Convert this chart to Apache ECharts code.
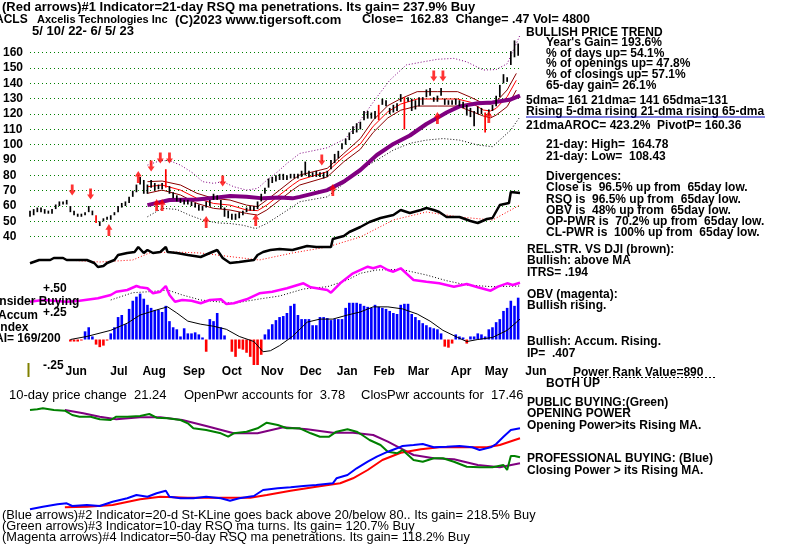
<!DOCTYPE html>
<html><head><meta charset="utf-8">
<script src="https://cdn.jsdelivr.net/npm/echarts@6/dist/echarts.min.js"></script>
<style>html,body{margin:0;padding:0;background:#fff}#c{width:796px;height:545px}</style>
</head><body><div id="c"></div>
<script>
// ---------- DATA ----------
const priceTicks = [40,50,60,70,80,90,100,110,120,130,140,150,160];
// one bar every 2 trading days (day = 2*k)
const priceHigh = [57,58,59,59,58,57,58,61,63,63, 64,60,57,55,55,56,60,57,54,50, 52,53,54,56,60,62,63,66,70,74,
 79,77,74,77,75,74,75,84,73,69, 67,65,64,64,63,62,61,60,63,64, 68,67,64,59,57,55,55,56,57,59,
 60,60,63,68,72,78,79,80,81,81, 80,81,81,81,83,89,83,82,83,82, 82,83,90,94,96,101,104,108,112,114,
 115,122,122,121,122,126,130,129,124,126, 127,133,131,131,130,129,131,131,136,137, 131,132,137,130,129,129,130,129,128,126,
 124,122,125,124,121,123,126,132,139,146, 144,161,168,166];
const priceLow = [53,54,56,56,55,55,55,58,60,61, 61,56,54,53,53,54,56,54,49,47, 50,51,51,54,56,59,60,62,66,69,
 74,68,68,72,70,71,71,72,68,65, 63,62,61,61,60,59,57,57,59,60, 64,64,58,53,52,51,51,52,54,56,
 57,57,58,63,68,72,75,76,77,77, 77,78,78,78,79,80,79,79,79,79, 78,79,84,88,91,97,100,103,107,108,
 110,116,117,117,117,116,126,125,120,121, 122,128,110,128,122,123,125,126,131,132, 128,128,132,126,126,126,126,125,124,119,
 118,112,120,120,108,119,122,125,131,140, 141,152,157,158];
const redBarIdx = [18,37,95,102,124];

const ma65Day = [64,76,91,102,109,118,127,136,143,147,162,171,180,189,198,207,216,222,227,234,244,252,262,267];
const ma65Val = [60.6,63.9,64.3,65.6,66.5,66,65,65.6,65,66,70.4,75.9,83.5,93.3,100.5,106,113.5,117.5,121,125,127,127.5,129.5,132];

const bandDay  = [64,72,82,91,100,109,118,124,129,136,143,147,162,171,180,187,195,202,211,222,233,240,247,251,254,260,265];
const bandUp   = [75.9,76.3,73.7,68.3,65,63.9,60.6,59.6,63.9,70.4,77,80.2,84.6,94.3,104,116,125.5,130,134.6,134.6,134.6,131,127,126.5,128,135.7,146.5];
const bandMid  = [72.6,73.7,70.4,65,61.7,60.6,57.4,57,60.6,67.2,73.7,77,82.4,92.2,100.5,112,121.5,126.5,129.8,129.8,129.8,127.7,122.6,122,123.7,131.3,142];
const bandLow  = [68.3,70.4,67.2,61.7,58.5,57.4,55.2,54.1,57.4,63.9,70.4,73.7,79,88.9,97,108,117.5,122.5,125.2,125.2,125.2,122,118.7,117.5,119.3,124.8,135.6];

const envUpDay = [64,71,76,82,89,94,100,105,111,118,124,129,135,140,147,154,162,172,180,189,196,205,214,222,231,238,247,254,260,265,267];
const envUpVal = [86.7,89.6,89.6,86.7,81.3,75.9,74.8,75.9,72.6,70.4,71.5,76.8,82.4,87.8,94.3,96,98,104,116,131,142,152,154,155.7,156.3,154,148.7,149,152.8,166,171.5];
const envLoDay = [64,72,80,87,94,102,109,116,123,129,136,143,147,162,180,198,207,216,225,234,244,252,262,267];
const envLoVal = [53,58.5,57.8,54,50.9,49,48.6,47.5,45.3,48.6,54,59.5,62.8,66,83.5,96.5,100.9,103,104,103,99.8,98.7,109.6,118.3];

const downArrowDay   = [23,33,66,71,76,105,159,220,225];
const downArrowPrice = [70.4,67.8,86.1,91.3,91.3,76.3,90,144.8,144.8];
const upArrowDay     = [43,59,69,72,96,123,165,222,250];
const upArrowPrice   = [44.3,79,60.6,60.6,49.6,50.9,70.4,117.4,118];

// relative strength vs DJI (black) and its MA (red dotted), arbitrary units
const rsDay = [0,5,11,13,18,20,31,35,37,40,42,46,48,53,57,59,62,64,67,71,74,75,80,86,93,98,102,105,109,114,122,124,127,131,136,143,151,156,164,165,171,174,180,185,191,198,202,207,213,216,220,223,227,234,240,244,249,252,256,261,262,267];
const rsVal = [11.7,15,15,17,17,15,15,12,8,9,12,15,20,22,23,28,22,25,22,23,28,23,22,20,18,22,25,17,12,13,15,20,23,25,26,25,29,28,28,36,39,43,48,53,57,60,65,62,65,67,65,63,58,58,54,52,56,57,70,72,83,82];
const rsMaDay = [20,38,56,65,78,93,111,125,143,162,180,198,216,234,252,267];
const rsMaVal = [15,13,15,22,23,22,18,15,22,28,38,55,63,58,55,70];

// OBV (magenta) and its MA
const obvDay = [0,7,20,27,37,44,47,53,58,60,64,67,71,74,76,79,83,88,93,98,104,107,111,118,125,132,140,149,153,162,164,169,176,184,187,191,195,198,202,205,209,216,223,231,238,244,251,255,260,263,267];
const obvVal = [8.3,10,8.3,9.3,11.7,15,18.3,20,24,22.7,21.7,16.7,18.3,24,15,8.3,10,9.3,6.7,10,10.7,6,6.7,10.7,16.7,18.3,21.7,26.7,22.7,20,17.3,26.7,36.7,43.3,41.7,44,40,38.3,41.7,36.7,30,28.3,26.7,23.3,26,22.7,19.3,23.3,26.7,25,27.3];
const obvMaDay = [44,56,65,75,83,93,102,111,125,136,149,162,173,180,189,202,216,227,238,252,267];
const obvMaVal = [10,17.3,18.3,20,15,10,8.3,6.7,11,14,21,23.3,30,36.7,40,40.7,35,29.3,25,23.3,24];

// Accumulation index, one value every 2 trading days from day 22
const aiStartDay = 22;
const aiVals = [-0.02,-0.02,-0.02,-0.01,0.08,0.12,0.03,-0.05,-0.075,-0.06,
 -0.01,0.06,0.12,0.22,0.24,0.15,0.30,0.38,0.42,0.45,
 0.40,0.34,0.31,0.29,0.29,0.27,0.33,0.18,0.12,0.10,
 0.03,0.11,0.06,0.06,0.07,0.05,0.02,-0.12,0.20,0.18,
 0.26,0.12,0.04,0.0,-0.12,-0.17,-0.09,-0.10,-0.13,-0.17,
 -0.25,-0.28,-0.15,0.05,0.10,0.15,0.19,0.22,0.23,0.26,
 0.33,0.35,0.24,0.20,0.20,0.20,0.14,0.14,0.22,0.22,
 0.21,0.19,0.20,0.20,0.20,0.31,0.36,0.36,0.36,0.35,
 0.33,0.32,0.31,0.34,0.32,0.31,0.30,0.28,0.26,0.25,
 0.34,0.35,0.35,0.25,0.22,0.19,0.16,0.14,0.12,0.11,
 0.10,0.06,-0.07,-0.08,-0.04,0.05,0.03,0.02,-0.04,0.03,
 0.03,0.06,0.05,0.03,0.10,0.12,0.17,0.20,0.28,0.31,
 0.38,0.33,0.41];
const aiMaDay = [22,31,44,53,60,69,75,80,86,93,100,107,114,122,127,131,136,143,151,158,165,173,180,187,195,203,211,218,225,233,238,244,252,260,267];
const aiMaVal = [0,0.03,0.09,0.16,0.24,0.29,0.32,0.26,0.18,0.15,0.13,0.10,0.03,-0.02,-0.12,-0.11,-0.06,0.03,0.17,0.20,0.20,0.24,0.27,0.32,0.32,0.30,0.25,0.18,0.09,0.02,-0.02,0,0.02,0.09,0.20];
const aiLevels = [0.5, 0.25, -0.25];
const insiderLevel = 0.36;

// Opening power (green) / MA (purple), Closing power (blue) / MA (red)
const opDay = [0,4,7,13,19,23,27,33,38,44,47,53,60,65,69,75,82,86,89,96,104,108,111,118,124,129,135,140,147,153,158,163,167,173,178,181,185,191,195,200,203,209,214,220,225,231,238,245,252,258,260,262,264,267];
const opVal = [110,110.7,111.7,110,109.3,105,103.3,103.3,100.7,100,103.3,103.3,104,106,102.3,101.7,100,96.7,91.7,90,86.7,83.3,86.7,88.3,91.7,97.3,95,91.7,91.7,86.7,83.3,83.3,88.3,90.7,88.3,85,80,75,68.3,66.7,70,60,58.3,61.7,61.7,58.3,53.3,52.7,52.7,55,50,64,64,62.7];
const opMaDay = [19,29,38,47,60,71,83,96,111,124,138,151,165,176,187,195,202,209,220,231,244,256,267];
const opMaVal = [110,106.7,103.3,100.7,102.7,102.7,100,94,86.7,86.7,92.7,90.7,87.3,87.3,85,78.3,71.7,65,61.7,60.7,55,52.7,56.7];
const clDay = [0,7,15,20,23,31,38,45,53,58,64,69,74,76,82,89,96,104,109,114,122,127,135,142,149,156,165,167,173,178,184,189,195,200,203,209,214,220,227,234,241,245,251,254,258,262,267];
const clVal = [10.7,13.3,15.7,16.7,14,15,14,18.3,21.7,25,23.3,26.7,29.3,23.3,21.7,21.7,23.3,21.7,19.3,21.7,24,30,31.7,32.7,34,35,36.7,41.7,45,51.7,58.3,63.3,68.3,71.7,74,75,76,72.7,73.3,74,72.7,70,72.7,76,83.3,90,91.7];
const clMaDay = [19,31,45,60,71,86,100,120,129,142,156,169,176,184,192,202,213,223,238,249,256,267];
const clMaVal = [12.7,13.3,15,20.7,23.3,22.3,22.3,22.3,25,29.3,33.3,36.7,41.7,50,60,67.3,70.7,72.7,72.7,72.7,75,81.7];

const monthNames = ['Jun','Jul','Aug','Sep','Oct','Nov','Dec','Jan','Feb','Mar','Apr','May','Jun'];
const monthPos   = [25.2,48.5,67.6,89.4,110,132,153,172.8,193,211.7,234.9,254.2,275.7];

// ---------- CHART ----------
const F = '"Liberation Sans", Arial, sans-serif';
const zip = (a,b) => a.map((v,i)=>[v,b[i]]);
const chart = echarts.init(document.getElementById('c'), null, {renderer:'canvas'});

const grids = [
  {left:30, top:52.7, width:490, height:184},   // 0 price
  {left:30, top:185,  width:490, height:90},    // 1 RS
  {left:30, top:260,  width:490, height:50},    // 2 OBV
  {left:30, top:288.5,width:490, height:76.5},  // 3 AI
  {left:30, top:400,  width:490, height:120},   // 4 power
  {left:30, top:360,  width:532.2, height:4}    // 5 month axis
];
const hx = (i) => ({gridIndex:i, type:'value', min:0, max:267, show:false});
const xAxes = [hx(0),hx(1),hx(2),hx(3),hx(4),
  {gridIndex:5, type:'value', min:0, max:290, axisLine:{show:false}, axisTick:{show:false}, splitLine:{show:false},
   axisLabel:{customValues:monthPos, margin:2, color:'#000', fontFamily:F, fontWeight:'bold', fontSize:12,
     formatter:(v)=>monthNames[monthPos.indexOf(v)]}}];
const yAxes = [
  {gridIndex:0, type:'value', min:40, max:160, interval:10, axisLine:{show:false}, axisTick:{show:false},
   splitLine:{show:true, lineStyle:{color:'#008000', type:[1,3], width:1}},
   axisLabel:{align:'left', margin:27, color:'#000', fontFamily:F, fontWeight:'bold', fontSize:12}},
  {gridIndex:1, type:'value', min:0, max:90, show:false},
  {gridIndex:2, type:'value', min:0, max:50, show:false},
  {gridIndex:3, type:'value', min:-0.25, max:0.5, show:false},
  {gridIndex:4, type:'value', min:0, max:120, show:false},
  {gridIndex:5, type:'value', min:0, max:1, show:false}
];

function line(g, data, color, width, dash, z){
  return {type:'line', xAxisIndex:g, yAxisIndex:g, data, symbol:'none', clip:false, z:z||2, silent:true,
    lineStyle:{color, width, type:dash||'solid'}, animation:false};
}

const series = [];
// price bars
series.push({type:'custom', xAxisIndex:0, yAxisIndex:0, clip:false, z:5, animation:false,
  data: priceHigh.map((h,k)=>[2*k, priceLow[k], h, redBarIdx.indexOf(k)>=0?1:0]),
  encode:{x:0, y:[1,2]},
  renderItem(params, api){
    const x = api.value(0);
    const p1 = api.coord([x, api.value(1)]);
    const p2 = api.coord([x, api.value(2)]);
    return {type:'line', shape:{x1:p1[0], y1:p1[1], x2:p2[0], y2:p2[1]},
      style:{stroke: api.value(3) ? '#ff0000' : '#000000', lineWidth:1.7}};
  }});
series.push(line(0, zip(envUpDay, envUpVal), '#800080', 1, [1,2]));
series.push(line(0, zip(envLoDay, envLoVal), '#000000', 1, [1,2]));
series.push(line(0, zip(bandDay, bandUp), '#8b0000', 1));
series.push(line(0, zip(bandDay, bandLow), '#8b0000', 1));
series.push(line(0, zip(bandDay, bandMid), '#ff0000', 1));
series.push(line(0, zip(ma65Day, ma65Val), '#800080', 4, 'solid', 4));
series.push({type:'scatter', xAxisIndex:0, yAxisIndex:0, z:6, animation:false, silent:true,
  data: zip(downArrowDay, downArrowPrice), symbol:'path://M3,0L7,0L7,7L10,7L5,13L0,7L3,7Z', symbolSize:[7,11],
  itemStyle:{color:'#ff0000'}});
series.push({type:'scatter', xAxisIndex:0, yAxisIndex:0, z:6, animation:false, silent:true,
  data: zip(upArrowDay, upArrowPrice), symbol:'path://M5,0L10,6L7,6L7,13L3,13L3,6L0,6Z', symbolSize:[7,12],
  itemStyle:{color:'#ff0000'}});
// RS
series.push(line(1, zip(rsMaDay, rsMaVal), '#ff0000', 1, [1,2]));
series.push(line(1, zip(rsDay, rsVal), '#000000', 2.5, 'solid', 3));
// OBV
series.push(line(2, zip(obvMaDay, obvMaVal), '#000000', 1, [1,2]));
series.push(line(2, zip(obvDay, obvVal), '#ff00ff', 2.5, 'solid', 3));
// AI
series.push({type:'bar', xAxisIndex:3, yAxisIndex:3, barWidth:2.6, animation:false, silent:true, z:2,
  data: aiVals.map((v,i)=>[aiStartDay+2*i, v]),
  itemStyle:{color:(p)=> p.value[1] >= 0 ? '#0000ff' : '#ff0000'}});
const aiMa = line(3, zip(aiMaDay, aiMaVal), '#000000', 1, 'solid', 4);
aiMa.markLine = {silent:true, symbol:'none', animation:false, label:{show:false},
  data: [
    [{coord:[aiStartDay, aiLevels[0]], lineStyle:{color:'#a000a0', type:[1,4], width:1}}, {coord:[270, aiLevels[0]]}],
    [{coord:[aiStartDay, aiLevels[1]], lineStyle:{color:'#000000', type:[1,4], width:1}}, {coord:[270, aiLevels[1]]}],
    [{coord:[aiStartDay-2, aiLevels[2]], lineStyle:{color:'#a000a0', type:[1,4], width:1}}, {coord:[270, aiLevels[2]]}],
    [{coord:[-16.5, insiderLevel], lineStyle:{color:'#800080', type:'solid', width:1.5}}, {coord:[267, insiderLevel]}]
  ]};
series.push(aiMa);
// power
series.push(line(4, zip(opMaDay, opMaVal), '#800080', 2));
series.push(line(4, zip(opDay, opVal), '#008000', 2, 'solid', 3));
series.push(line(4, zip(clMaDay, clMaVal), '#ff0000', 2));
series.push(line(4, zip(clDay, clVal), '#0000ff', 2, 'solid', 3));

// ---------- TEXT ----------
const B = 'bold 12px ' + F, B13 = 'bold 13px ' + F, N = '12.8px ' + F, N13 = '13px ' + F;
function T(x, y, text, font){ return {type:'text', silent:true, z:100, style:{x, y, text, font:font||B, fill:'#000', verticalAlign:'middle', align:'left'}}; }
const texts = [
  T(2, 7, '(Red arrows)#1 Indicator=21-day RSQ ma penetrations. Its gain= 237.9% Buy', B13),
  T(-5, 20, 'ACLS', B),
  T(37, 20, 'Axcelis Technologies Inc', 'bold 11px ' + F),
  T(175, 20, '(C)2023 www.tigersoft.com', B13),
  T(362, 20, 'Close=  162.83  Change= .47 Vol= 4800', 'bold 12.5px ' + F),
  T(32, 31, '5/ 10/ 22- 6/ 5/ 23', B13),
  T(526, 33, 'BULLISH PRICE TREND'),
  T(546, 43, "Year's Gain= 193.6%"),
  T(546, 53.5, '% of days up= 54.1%'),
  T(546, 64, '% of openings up= 47.8%'),
  T(546, 75, '% of closings up= 57.1%'),
  T(546, 85.5, '65-day gain= 26.1%'),
  T(526, 100.5, '5dma= 161 21dma= 141 65dma=131'),
  T(526, 112, 'Rising 5-dma rising 21-dma rising 65-dma'),
  T(526, 126, '21dmaAROC= 423.2%  PivotP= 160.36'),
  T(546, 144.5, '21-day: High=  164.78'),
  T(546, 156.5, '21-day: Low=  108.43'),
  T(546, 177, 'Divergences:'),
  T(546, 188, 'Close is  96.5% up from  65day low.'),
  T(546, 199.5, 'RSQ is  96.5% up from  65day low.'),
  T(546, 210.5, 'OBV is  48% up from  65day low.'),
  T(546, 222, 'OP-PWR is  70.2% up from  65day low.'),
  T(546, 232.5, 'CL-PWR is  100% up from  65day low.'),
  T(527, 249.5, 'REL.STR. VS DJI (brown):'),
  T(527, 261, 'Bullish: above MA'),
  T(527, 272.5, 'ITRS= .194'),
  T(527, 295, 'OBV (magenta):'),
  T(527, 305.5, 'Bullish rising.'),
  T(527, 342, 'Bullish: Accum. Rising.'),
  T(527, 353.5, 'IP=  .407'),
  T(573, 372.5, 'Power Rank Value=890'),
  T(546, 384, 'BOTH UP'),
  T(527, 403, 'PUBLIC BUYING:(Green)'),
  T(527, 413.5, 'OPENING POWER'),
  T(527, 425.5, 'Opening Power>its Rising MA.'),
  T(527, 459, 'PROFESSIONAL BUYING: (Blue)'),
  T(527, 471, 'Closing Power > its Rising MA.'),
  T(43, 289, '+.50'),
  T(-4, 302, 'Insider Buying'),
  T(43, 313, '+.25'),
  T(-2, 316, 'Accum'),
  T(-3, 328, 'Index'),
  T(-5, 339, 'AI= 169/200'),
  T(43, 366, '-.25'),
  T(9, 395, '10-day price change  21.24', N13),
  T(184, 395, 'OpenPwr accounts for  3.78', N13),
  T(361, 395, 'ClosPwr accounts for  17.46', N13),
  T(2, 515.5, '(Blue arrows)#2 Indicator=20-d St-KLine goes back above 20/below 80.. Its gain= 218.5% Buy', N),
  T(2, 526.5, '(Green arrows)#3 Indicator=10-day RSQ ma turns. Its gain= 120.7% Buy', N),
  T(2, 537.5, '(Magenta arrows)#4 Indicator=50-day RSQ ma penetrations. Its gain= 118.2% Buy', N),
  {type:'line', silent:true, z:100, shape:{x1:526, y1:117, x2:765, y2:117}, style:{stroke:'#0000c0', lineWidth:1}},
  {type:'line', silent:true, z:100, shape:{x1:573, y1:377.5, x2:716, y2:377.5}, style:{stroke:'#000', lineWidth:1, lineDash:[2,2]}},
  {type:'line', silent:true, z:100, shape:{x1:28.5, y1:363, x2:28.5, y2:377}, style:{stroke:'#808000', lineWidth:2}}
];

chart.setOption({
  animation:false,
  backgroundColor:'#ffffff',
  grid: grids,
  xAxis: xAxes,
  yAxis: yAxes,
  series,
  graphic: texts
});
</script></body></html>
